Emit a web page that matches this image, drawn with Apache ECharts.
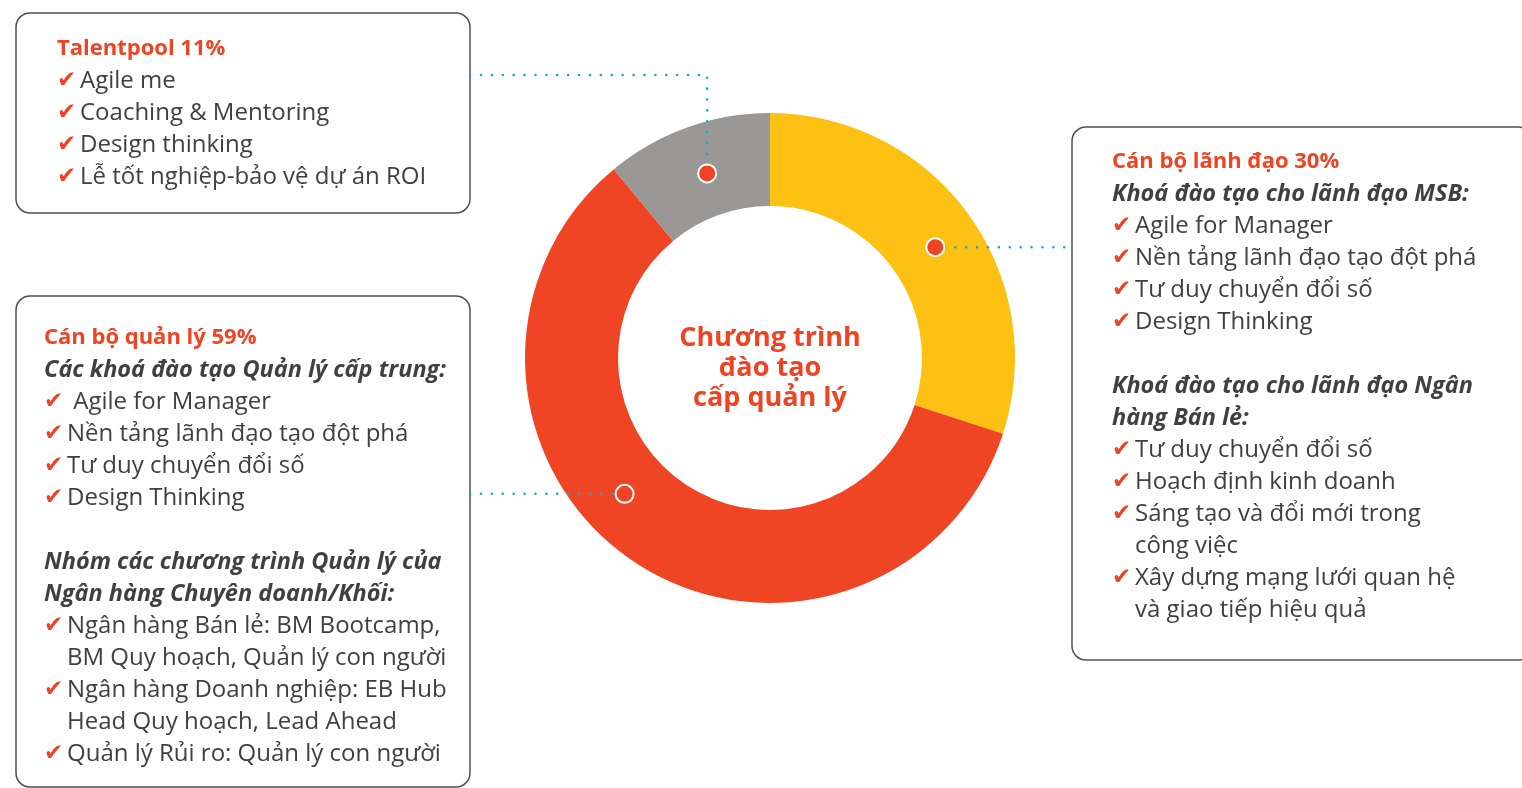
<!DOCTYPE html>
<html>
<head>
<meta charset="utf-8">
<style>
  html, body { margin: 0; padding: 0; background: #fff; }
  #chart { width: 1522px; height: 788px; }
</style>
<script src="https://cdn.jsdelivr.net/npm/echarts@6/dist/echarts.min.js"></script>
</head>
<body>
<div id="chart"></div>
<script>
// slices, clockwise from 12 o'clock
const categories = ["Cán bộ lãnh đạo", "Cán bộ quản lý", "Talentpool"];
const values = [30, 59, 11];
const colors = ["#fdc113", "#f04525", "#999896"];

const centerTitle = ["Chương trình", "đào tạo", "cấp quản lý"];

const talentItems = ["Agile me", "Coaching & Mentoring", "Design thinking", "Lễ tốt nghiệp-bảo vệ dự án ROI"];

const managerGroup1 = "Các khoá đào tạo Quản lý cấp trung:";
const managerItems1 = [" Agile for Manager", "Nền tảng lãnh đạo tạo đột phá", "Tư duy chuyển đổi số", "Design Thinking"];
const managerGroup2 = ["Nhóm các chương trình Quản lý của", "Ngân hàng Chuyên doanh/Khối:"];
const managerItems2 = [
  ["Ngân hàng Bán lẻ: BM Bootcamp,", "BM Quy hoạch, Quản lý con người"],
  ["Ngân hàng Doanh nghiệp: EB Hub", "Head Quy hoạch, Lead Ahead"],
  ["Quản lý Rủi ro: Quản lý con người"],
];

const leaderGroup1 = "Khoá đào tạo cho lãnh đạo MSB:";
const leaderItems1 = ["Agile for Manager", "Nền tảng lãnh đạo tạo đột phá", "Tư duy chuyển đổi số", "Design Thinking"];
const leaderGroup2 = ["Khoá đào tạo cho lãnh đạo Ngân", "hàng Bán lẻ:"];
const leaderItems2 = [
  ["Tư duy chuyển đổi số"],
  ["Hoạch định kinh doanh"],
  ["Sáng tạo và đổi mới trong", "công việc"],
  ["Xây dựng mạng lưới quan hệ", "và giao tiếp hiệu quả"],
];

const CX = 770, CY = 358, R0 = 152, R1 = 245;
const RED = "#ee4424", INK = "#404040", DOT = "#1ba6c9";
const FONT = "'Open Sans', 'Noto Sans', sans-serif";

const chart = echarts.init(document.getElementById("chart"));

function title(name, v) { return "{t|" + name + " " + v + "%}"; }
function check(lines) {
  return lines.map((l, i) => (i === 0 ? "{c|✔}" : "{s| }") + "{n|" + l + "}");
}
function italic(lines) { return lines.map((l) => "{i|" + l + "}"); }

const rich = {
  t: { fontFamily: FONT, fontWeight: "bold", fontSize: 22, fill: RED, lineHeight: 32 },
  i: { fontFamily: FONT, fontWeight: "bold", fontStyle: "italic", fontSize: 23.5, fill: INK, lineHeight: 32 },
  n: { fontFamily: FONT, fontSize: 24, fill: INK, lineHeight: 32 },
  c: { fontFamily: "DejaVu Sans", fontSize: 23, fill: RED, width: 23, lineHeight: 32 },
  s: { fontSize: 23, width: 23, lineHeight: 32 },
  b: { fontSize: 24, lineHeight: 32 },
};

const talentText = [title(categories[2], values[2])]
  .concat(talentItems.flatMap((x) => check([x]))).join("\n");
const managerText = [title(categories[1], values[1]), "{i|" + managerGroup1 + "}"]
  .concat(managerItems1.flatMap((x) => check([x])))
  .concat(["{b| }"]).concat(italic(managerGroup2))
  .concat(managerItems2.flatMap((x) => check(x))).join("\n");
const leaderText = [title(categories[0], values[0]), "{i|" + leaderGroup1 + "}"]
  .concat(leaderItems1.flatMap((x) => check([x])))
  .concat(["{b| }"]).concat(italic(leaderGroup2))
  .concat(leaderItems2.flatMap((x) => check(x))).join("\n");

// marker position along each slice (fraction of its sweep)
const markerAt = [0.52, 0.56, 0.525];
const total = values.reduce((a, b) => a + b, 0);
let acc = 0;
const markers = values.map((v, k) => {
  const a = (90 - (acc + v * markerAt[k]) / total * 360) * Math.PI / 180;
  acc += v;
  const r = k === 2 ? 195 : 199;
  return [CX + r * Math.cos(a), CY - r * Math.sin(a)];
});

const box = (x, y, w, h) => ({
  type: "rect", shape: { x, y, width: w, height: h, r: 14 },
  style: { fill: "none", stroke: "#505050", lineWidth: 1.5 },
});
const dotted = (pts) => ({
  type: "polyline", shape: { points: pts }, z: 10,
  style: { stroke: DOT, lineWidth: 2.5, lineDash: [0.1, 10.8], lineCap: "round", fill: "none" },
});
const marker = (p, k) => ({
  type: "circle", shape: { cx: p[0], cy: p[1], r: 9 }, z: 20,
  style: { fill: k === 1 ? colors[1] : "#ee4424", stroke: "#fff", lineWidth: 2 },
});

chart.setOption({
  animation: false,
  series: [{
    type: "pie",
    center: [CX, CY],
    radius: [R0, R1],
    startAngle: 90,
    clockwise: true,
    silent: true,
    label: { show: false },
    labelLine: { show: false },
    data: categories.map((name, k) => ({ name, value: values[k], itemStyle: { color: colors[k] } })),
  }],
  graphic: [
    box(16, 13, 454, 200),
    box(16, 296, 454, 491),
    box(1072, 127, 460, 533),
    dotted([[470, 75], [markers[2][0], 75], [markers[2][0], markers[2][1] - 9]]),
    dotted([[markers[0][0] + 9, markers[0][1]], [1070, markers[0][1]]]),
    dotted([[470, markers[1][1]], [markers[1][0] - 9, markers[1][1]]]),
    ...markers.map(marker),
    {
      type: "text", left: 57, top: 38,
      style: { text: talentText, rich },
    },
    {
      type: "text", left: 44, top: 327,
      style: { text: managerText, rich },
    },
    {
      type: "text", left: 1112, top: 151,
      style: { text: leaderText, rich },
    },
    {
      type: "text", z: 30,
      style: {
        x: CX, y: CY + 10, text: centerTitle.join("\n"),
        align: "center", verticalAlign: "middle",
        fontFamily: FONT, fontWeight: "bold", fontSize: 27, lineHeight: 30, fill: RED,
      },
    },
  ],
});
window.addEventListener("resize", () => chart.resize());
</script>
</body>
</html>
